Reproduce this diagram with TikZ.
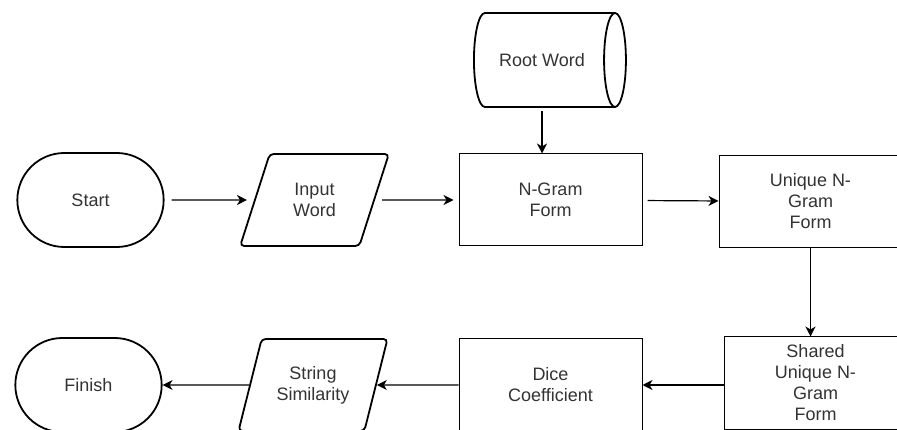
\documentclass[tikz,border=0pt]{standalone}
\usepackage{fontspec}
\setmainfont{Liberation Sans}
\usepackage{xcolor}
\definecolor{labelGray}{HTML}{333333}
\usepackage{tikz}
\usetikzlibrary{positioning,arrows.meta,shapes.geometric,shapes.misc}

\begin{document}
\begin{tikzpicture}[x=1pt, y=-1pt,
    every node/.style={font=\fontsize{18}{21}\selectfont, text=labelGray},
    box/.style={draw, line width=1pt, minimum width=183pt,
                minimum height=92pt, align=center, inner sep=2pt},
    term/.style={draw, line width=1.8pt, rounded rectangle,
                 minimum width=153pt, minimum height=94pt},
    io/.style={draw, line width=1.8pt, trapezium, trapezium left angle=68,
               trapezium right angle=112, trapezium stretches=true,
               minimum width=149pt, minimum height=92pt,
               rounded corners=4pt, align=center},
    db/.style={draw, line width=1.8pt, cylinder, aspect=1.1,
               minimum width=94pt, minimum height=152pt},
    arr/.style={-{Stealth[length=10pt, width=10pt, inset=3pt]}, line width=1.2pt}]
  \useasboundingbox (0,0) rectangle (897,430);
  \clip (0,0) rectangle (897,430);
  % top row
  \node[term]  (start)  at (90.5,200)   {Start};
  \node[io]    (input)  at (314.5,200)  {Input\\Word};
  \node[box]   (ngram)  at (550.5,200)  {N-Gram\\Form};
  \node[db]    (root)   at (542,60)     {Root Word};
  \node[box]   (uniq)   at (810.5,201.5) {Unique N-\\Gram\\Form};
  % bottom row
  \node[box]   (shared) at (815.5,383)  {Shared\\Unique N-\\Gram\\Form};
  \node[box]   (dice)   at (550.5,385)  {Dice\\Coefficient};
  \node[io]    (simil)  at (313,385)    {String\\Similarity};
  \node[term]  (finish) at (88.5,385)   {Finish};
  \draw[arr, shorten <=7pt, shorten >=7pt] (start) -- (input);
  \draw[arr, shorten <=7pt, shorten >=5pt] (input) -- (ngram);
  \draw[arr, shorten <=3pt] (root.south) -- (root.south |- ngram.north);
  \draw[arr, shorten <=5pt] (ngram) -- (uniq);
  \draw[arr] (uniq) -- (uniq |- shared.north);
  \draw[arr] (shared.west |- dice.east) -- (dice.east);
  \draw[arr] (dice) -- (simil);
  \draw[arr] (simil) -- (finish);
\end{tikzpicture}
\end{document}
